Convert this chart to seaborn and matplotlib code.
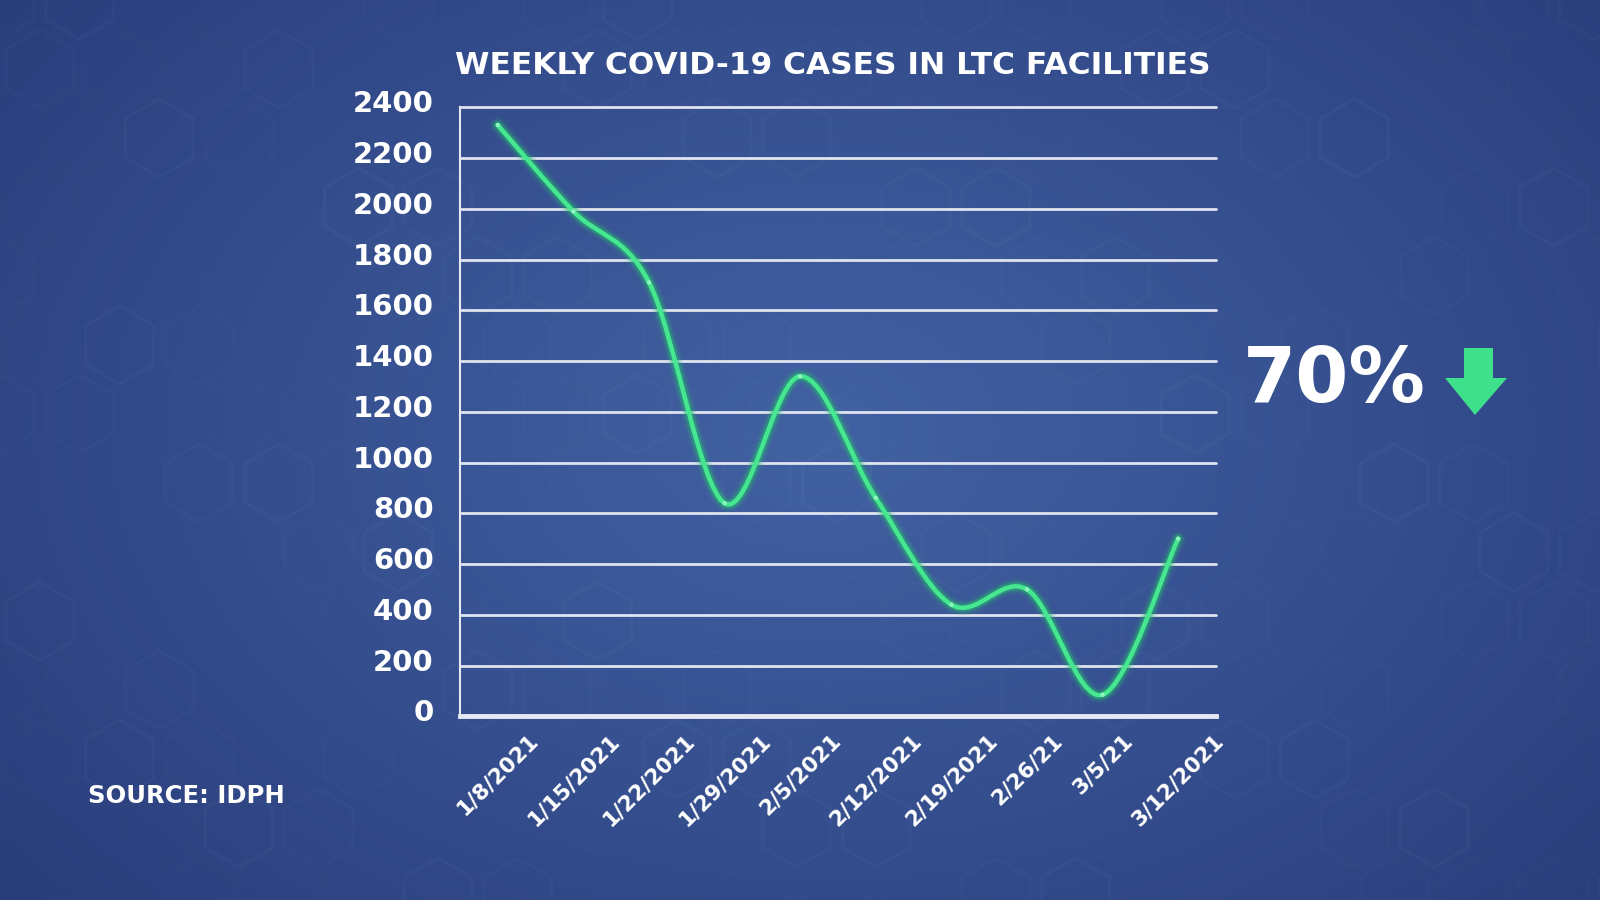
import numpy as np
import pandas as pd
import matplotlib
matplotlib.use("Agg")
import matplotlib.pyplot as plt
import matplotlib.transforms as mtransforms
from matplotlib.path import Path
from matplotlib.patches import PathPatch, Polygon, RegularPolygon
import seaborn as sns

# ---------------- data ----------------
dates = ["1/8/2021", "1/15/2021", "1/22/2021", "1/29/2021", "2/5/2021",
         "2/12/2021", "2/19/2021", "2/26/21", "3/5/21", "3/12/2021"]
cases = [2330, 1990, 1710, 840, 1340, 860, 440, 500, 85, 700]
y_ticks = [0, 200, 400, 600, 800, 1000, 1200, 1400, 1600, 1800, 2000, 2200, 2400]
title = "WEEKLY COVID-19 CASES IN LTC FACILITIES"
source = "SOURCE: IDPH"
change_label = "70%"

df = pd.DataFrame({"week": np.arange(len(dates)), "cases": cases})

# ---------------- style ----------------
sns.set_style("white")
plt.rcParams["font.family"] = ["DejaVu Sans"]

W, H = 1600, 900
fig = plt.figure(figsize=(16, 9), dpi=100)

# background gradient + faint hexagons
bg = fig.add_axes([0, 0, 1, 1], zorder=-10)
bg.set_xlim(0, W)
bg.set_ylim(H, 0)
bg.axis("off")
yy, xx = np.mgrid[0:H:4, 0:W:4]
r = np.sqrt(((xx - 820) / 950.0) ** 2 + ((yy - 430) / 650.0) ** 2)
t = np.clip(r, 0, 1.2) / 1.2
c_in = np.array([66, 98, 163]) / 255.0
c_out = np.array([40, 58, 120]) / 255.0
img = c_in[None, None, :] * (1 - t[..., None]) + c_out[None, None, :] * t[..., None]
bg.imshow(img, extent=[0, W, H, 0], aspect="auto", interpolation="bilinear")
hex_r = 46
dx = hex_r * np.sqrt(3)
for row in range(-1, 14):
    for col in range(-1, 22):
        cx = col * dx + (dx / 2 if row % 2 else 0)
        cy = row * hex_r * 1.5
        s = (np.sin(col * 1.7 + row * 2.3) + np.cos(col * 0.9 - row * 1.3)) / 2
        a = 0.03 * s + 0.01
        if a <= 0.005:
            continue
        bg.add_patch(RegularPolygon((cx, cy), 6, radius=hex_r * 0.85,
                                    orientation=0, fill=False,
                                    edgecolor=(0.65, 0.8, 1.0, a), lw=2.5))

# main axes
x0, x1 = 460, 1216
y_top, y_bot = 107.3, 716.3
ax = fig.add_axes([x0 / W, 1 - y_bot / H, (x1 - x0) / W, (y_bot - y_top) / H])
ax.patch.set_alpha(0)
ax.set_xlim(-0.5, len(dates) - 0.5)
ax.set_ylim(0, 2400)

for v in y_ticks[1:]:
    ax.axhline(v, color="#dfe4f0", lw=2.0, zorder=1, clip_on=False)

for s in ["top", "right"]:
    ax.spines[s].set_visible(False)
ax.spines["left"].set_color("#e6e9f2")
ax.spines["left"].set_linewidth(1.5)
ax.spines["bottom"].set_color("#e6e9f2")
ax.spines["bottom"].set_linewidth(3.5)

ax.set_yticks(y_ticks)
ax.set_yticklabels([str(v) for v in y_ticks], fontsize=21, fontweight="bold",
                   color="white")
ax.tick_params(axis="y", length=0, pad=19)
offset = mtransforms.ScaledTranslation(0, 6 / 100.0, fig.dpi_scale_trans)
for lab in ax.get_yticklabels():
    lab.set_transform(lab.get_transform() + offset)

ax.set_xticks(df["week"])
ax.set_xticklabels(dates, rotation=45, ha="center", fontsize=15.5,
                   fontweight="bold", color="white")
ax.tick_params(axis="x", length=6, width=1.5, color="#e6e9f2", pad=4,
               direction="out")

# smooth curve (Catmull-Rom as cubic Bezier in data coordinates)
xs = df["week"].to_numpy(dtype=float)
ys = df["cases"].to_numpy(dtype=float)
pts = np.column_stack([xs, ys])
verts = [tuple(pts[0])]
codes = [Path.MOVETO]
n = len(pts)
for i in range(n - 1):
    p0 = pts[i - 1] if i > 0 else pts[i]
    p1 = pts[i]
    p2 = pts[i + 1]
    p3 = pts[i + 2] if i + 2 < n else pts[i + 1]
    c1 = p1 + (p2 - p0) / 6.0
    c2 = p2 - (p3 - p1) / 6.0
    verts += [tuple(c1), tuple(c2), tuple(p2)]
    codes += [Path.CURVE4] * 3
path = Path(verts, codes)
for lw, a in [(11, 0.10), (8, 0.18), (6, 0.35)]:
    ax.add_patch(PathPatch(path, fill=False, edgecolor=(0.15, 0.75, 0.42, a),
                           lw=lw, capstyle="round", joinstyle="round", zorder=3))
ax.add_patch(PathPatch(path, fill=False, edgecolor="#45e891", lw=3.2,
                       capstyle="round", zorder=4))
sns.scatterplot(data=df, x="week", y="cases", ax=ax, s=10, color="#8ff5c0",
                edgecolor="none", zorder=5, legend=False)
ax.set_xlabel("")
ax.set_ylabel("")

# texts
fig.text(833 / W, 1 - 66 / H, title, ha="center", va="center", fontsize=22.5,
         fontweight="bold", color="white")
fig.text(88 / W, 1 - 796 / H, source, ha="left", va="center", fontsize=17.5,
         fontweight="bold", color="white")
fig.text(1243 / W, 1 - 381 / H, change_label, ha="left", va="center",
         fontsize=55, fontweight="bold", color="white")

# down arrow
arrow = [(1464, 348), (1493, 348), (1493, 378), (1507, 378), (1475, 415),
         (1445, 378), (1464, 378)]
fig.add_artist(Polygon([(x / W, 1 - y / H) for x, y in arrow], closed=True,
                       transform=fig.transFigure, facecolor="#3ee08b",
                       edgecolor="none"))

fig.savefig("out.png", dpi=100)
